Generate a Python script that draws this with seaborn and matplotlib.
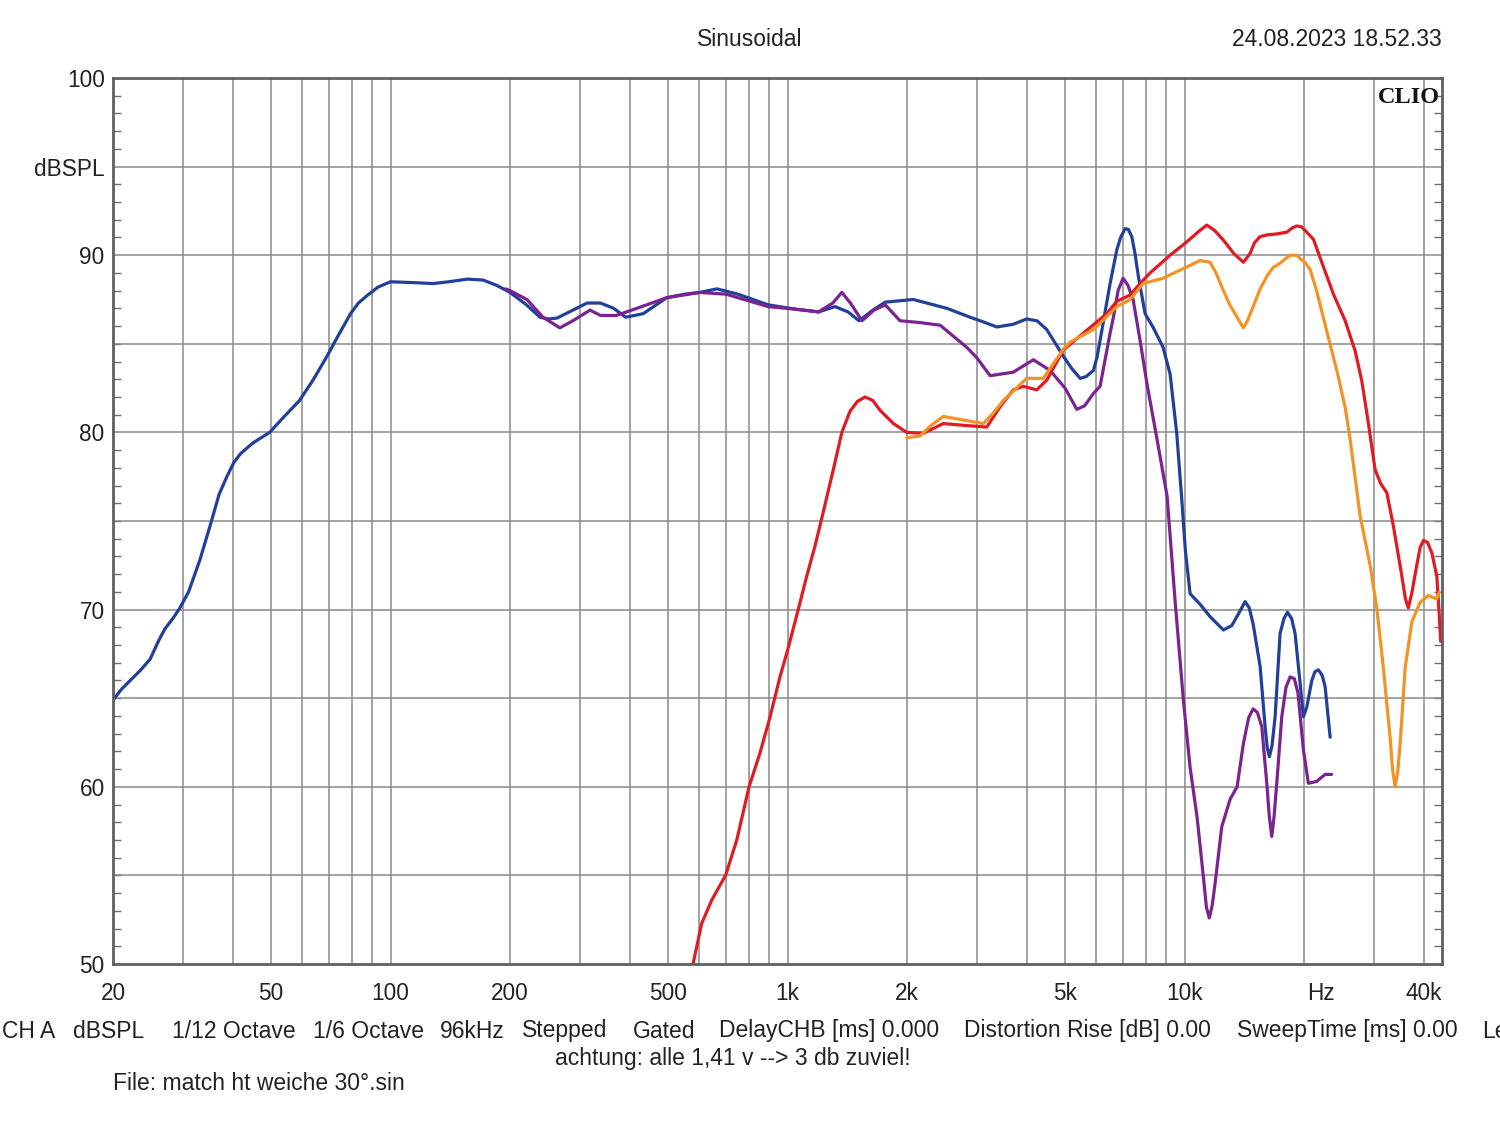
import numpy as np
import pandas as pd
import matplotlib
matplotlib.use("Agg")
import matplotlib.pyplot as plt
from matplotlib.ticker import FixedLocator, NullLocator, MultipleLocator
import seaborn as sns

# ---------------- data ----------------
blue_f = [20, 21, 22.1, 23.5, 24.8, 26, 27, 28.3, 29.5, 31, 33.1, 35.3, 37, 38.7, 40.3, 41.9, 45,
          49.6, 54, 59, 64, 69.2, 74, 79.3, 83, 87.6, 93, 100, 115, 128, 140, 156, 171, 185,
          200, 220, 238, 250, 262.6, 288, 312.6, 338, 365, 391, 433, 496, 550, 601, 664, 750,
          893, 1050, 1197, 1317, 1420, 1514, 1640, 1762, 2074, 2520, 2882, 3100, 3366, 3700,
          4000, 4250, 4498, 4950, 5200, 5456, 5650, 5894, 6020, 6250, 6492, 6750, 6900, 7082,
          7220, 7362, 7500, 7650, 7954, 8346, 8828, 9194, 9556, 9840, 10040, 10324, 10940,
          11596, 12526, 13152, 13700, 14206, 14550, 14880, 15496, 15952, 16150, 16356, 16600,
          16906, 17398, 17800, 18156, 18600, 18982, 19542, 19918, 20316, 20912, 21300, 21730,
          22200, 22592, 23262]
blue_db = [64.9, 65.5, 66.0, 66.6, 67.2, 68.2, 68.9, 69.5, 70.1, 71.0, 72.8, 74.9, 76.5, 77.5, 78.3, 78.8, 79.4,
           80.0, 80.9, 81.8, 83.0, 84.3, 85.5, 86.7, 87.3, 87.75, 88.2, 88.5, 88.45, 88.4, 88.5, 88.65, 88.6, 88.3,
           87.9, 87.2, 86.5, 86.4, 86.45, 86.9, 87.3, 87.3, 87.0, 86.5, 86.7, 87.6, 87.8, 87.9, 88.1, 87.8,
           87.2, 86.95, 86.8, 87.1, 86.8, 86.3, 86.9, 87.35, 87.5, 87.0, 86.5, 86.25, 85.95, 86.1,
           86.4, 86.3, 85.8, 84.3, 83.6, 83.05, 83.15, 83.5, 84.25, 86.3, 88.4, 90.3, 91.0, 91.5,
           91.45, 91.05, 90.1, 88.8, 86.7, 85.9, 84.8, 83.3, 79.95, 76.2, 73.4, 70.9, 70.3,
           69.6, 68.85, 69.1, 69.8, 70.45, 70.1, 69.2, 66.8, 63.4, 62.2, 61.7, 62.3,
           63.95, 68.65, 69.5, 69.85, 69.5, 68.65, 65.85, 63.95, 64.5, 66.0, 66.5, 66.6,
           66.3, 65.65, 62.8]

purple_f = [195, 200, 220.6, 242, 267, 288, 318, 338, 370, 405, 496, 601, 700, 893, 1050, 1197,
            1300, 1370, 1440, 1540, 1650, 1762, 1920, 2150, 2422, 2828, 3000, 3238, 3704, 4160,
            4584, 5000, 5352, 5600, 5894, 6126, 6492, 6618, 6800, 7000, 7200, 7418, 7724, 8046,
            8526, 9036, 9464, 9930, 10324, 10750, 11154, 11350, 11540, 11736, 11936, 12408,
            13024, 13560, 14066, 14500, 14880, 15250, 15648, 16108, 16350, 16580, 16800, 17068,
            17570, 18000, 18436, 18900, 19300, 19918, 20500, 21500, 22592, 23460]
purple_db = [88.1, 88.0, 87.5, 86.5, 85.9, 86.3, 86.9, 86.6, 86.6, 86.9, 87.6, 87.9, 87.8, 87.1, 86.95, 86.8,
             87.3, 87.9, 87.3, 86.3, 86.9, 87.2, 86.3, 86.2, 86.05, 84.8, 84.2, 83.2, 83.4, 84.1,
             83.5, 82.5, 81.3, 81.5, 82.2, 82.6, 85.6, 86.5, 88.0, 88.7, 88.3, 87.5, 85.2, 82.7,
             79.6, 76.4, 70.5, 64.9, 61.1, 58.3, 54.9, 53.2, 52.6, 53.3, 54.55, 57.75,
             59.3, 60.0, 62.45, 63.9, 64.4, 64.2, 63.4, 60.2, 58.3, 57.2, 58.3, 60.2,
             63.95, 65.6, 66.2, 66.1, 65.3, 62.1, 60.2, 60.3, 60.7, 60.7]

red_f = [578, 608, 644, 698, 745, 800, 852, 900, 957, 1000, 1064, 1118, 1173, 1230, 1304, 1370,
         1437, 1500, 1568, 1640, 1710, 1848, 1996, 2198, 2468, 2774, 3176, 3430, 3704, 3926,
         4244, 4498, 4950, 5560, 6368, 6750, 7290, 7724, 8188, 9194, 10126, 10800, 11372,
         11900, 12526, 13300, 14066, 14622, 15000, 15496, 16200, 17068, 18090, 18700, 19172,
         19700, 20116, 21112, 22370, 23712, 25380, 26892, 27952, 29042, 30190, 31200, 32308,
         33580, 35252, 36000, 36614, 37400, 38442, 39200, 39954, 40900, 41948, 43182, 43800,
         44160]
red_db = [50.0, 52.3, 53.6, 55.0, 57.0, 60.0, 61.9, 63.8, 66.2, 67.7, 70.0, 71.9, 73.6, 75.5, 77.9, 80.0,
          81.2, 81.75, 82.0, 81.8, 81.25, 80.5, 80.0, 79.95, 80.5, 80.4, 80.3, 81.45, 82.4, 82.6,
          82.4, 82.95, 84.65, 85.6, 86.7, 87.4, 87.75, 88.4, 89.0, 90.0, 90.75, 91.3, 91.7,
          91.4, 90.85, 90.1, 89.6, 90.1, 90.7, 91.05, 91.15, 91.2, 91.3, 91.55, 91.65,
          91.6, 91.4, 90.9, 89.35, 87.8, 86.3, 84.6, 82.9, 80.5, 77.9, 77.1, 76.6,
          74.7, 71.9, 70.6, 70.1, 71.0, 72.5, 73.5, 73.9, 73.8, 73.2, 71.9, 69.7,
          68.2]

orange_f = [1996, 2156, 2300, 2468, 2774, 3114, 3300, 3496, 4004, 4408, 4950, 5148, 5894, 6750,
            7290, 7862, 8828, 9930, 10940, 11596, 12000, 12526, 13000, 13560, 14066, 14400,
            14880, 15500, 16108, 16700, 17398, 18436, 19172, 19542, 20100, 20708, 21500, 22816,
            24176, 25380, 26124, 27672, 29328, 30484, 31672, 32932, 33400, 33906, 34400, 34904,
            35932, 37358, 39190, 41128, 43182, 43800]
orange_db = [79.7, 79.8, 80.4, 80.9, 80.7, 80.5, 81.1, 81.8, 83.05, 83.05, 84.7, 85.1, 85.8, 87.1,
             87.5, 88.4, 88.7, 89.25, 89.7, 89.6, 89.0, 88.0, 87.2, 86.5, 85.9, 86.3,
             87.1, 88.1, 88.8, 89.3, 89.55, 90.0, 90.0, 89.8, 89.6, 89.2, 88.0, 85.7,
             83.5, 81.4, 79.6, 75.3, 72.5, 70.1, 66.7, 62.8, 61.0, 60.0, 60.8, 62.4,
             66.7, 69.3, 70.4, 70.8, 70.6, 71.0]

series_names = ["blue", "purple", "red", "orange"]
series_colors = ["#22409a", "#7b2390", "#e01b24", "#f39325"]

x_tick_vals = [20, 50, 100, 200, 500, 1000, 2000, 5000, 10000, 22000, 40000]
x_tick_labels = ["20", "50", "100", "200", "500", "1k", "2k", "5k", "10k", "Hz", "40k"]
y_tick_vals = [50, 60, 70, 80, 90, 95, 100]
y_tick_labels = ["50", "60", "70", "80", "90", "dBSPL", "100"]

title = "Sinusoidal"
date_text = "24.08.2023 18.52.33"
info_items = ["CH A", "dBSPL", "1/12 Octave", "1/6 Octave", "96kHz", "Stepped", "Gated",
              "DelayCHB [ms] 0.000", "Distortion Rise [dB] 0.00", "SweepTime [ms] 0.00", "Le"]
info_x_px = [2, 73, 172, 313, 440, 522, 633, 719, 964, 1237, 1482]
note_text = "achtung: alle 1,41 v --> 3 db zuviel!"
file_text = "File: match ht weiche 30°.sin"

# ---------------- build frame ----------------
frames = []
for name, fs, dbs in zip(series_names,
                         [blue_f, purple_f, red_f, orange_f],
                         [blue_db, purple_db, red_db, orange_db]):
    frames.append(pd.DataFrame({"f": fs, "db": dbs, "s": name}))
df = pd.concat(frames, ignore_index=True)

sns.set_theme(style="white")
plt.rcParams["font.family"] = ["Liberation Sans", "DejaVu Sans"]

W, H = 1500, 1121
fig = plt.figure(figsize=(W / 100, H / 100), dpi=100)
ax = fig.add_axes([113 / W, 1 - 964 / H, (1442 - 113) / W, (964 - 78) / H])

ax.set_xscale("log")
ax.set_xlim(20, 44500)
ax.set_ylim(50, 100)

# grid
grid_x = [m * 10 ** e for e in range(1, 5) for m in range(1, 10)]
grid_x = [g for g in grid_x if 20 <= g <= 44500]
for g in grid_x:
    ax.axvline(g, color="#8a8a8a", lw=1.1, zorder=1)
for gy in range(55, 100, 5):
    ax.axhline(gy, color="#8a8a8a", lw=1.1, zorder=1)

sns.lineplot(data=df, x="f", y="db", hue="s", hue_order=series_names,
             palette=series_colors, estimator=None, sort=False, lw=2.3,
             legend=False, ax=ax, zorder=3)
for ln in ax.get_lines():
    ln.set_solid_joinstyle("round")
    ln.set_solid_capstyle("round")

ax.set_xlabel("")
ax.set_ylabel("")

ax.xaxis.set_major_locator(FixedLocator(x_tick_vals))
ax.xaxis.set_minor_locator(NullLocator())
ax.set_xticklabels(x_tick_labels)
ax.yaxis.set_major_locator(FixedLocator(y_tick_vals))
ax.set_yticklabels(y_tick_labels)
ax.yaxis.set_minor_locator(MultipleLocator(1))
ax.tick_params(axis="x", which="major", length=0, pad=13, labelsize=16.3, labelcolor="#222222")
ax.tick_params(axis="y", which="major", length=0, pad=6, labelsize=16.3, labelcolor="#222222")
ax.tick_params(axis="y", which="minor", direction="in", length=6, width=1,
               color="#707070", left=True, right=True)

for sp in ax.spines.values():
    sp.set_color("#606060")
    sp.set_linewidth(2)
    sp.set_zorder(4)

ax.text(0.9985, 0.99, "CLIO", transform=ax.transAxes, ha="right", va="top",
        fontsize=17.5, fontweight="bold", family=["Liberation Serif", "DejaVu Serif"],
        color="#111111", zorder=5)

fig.text(750 / W, 1 - 39 / H, title, ha="center", va="center", fontsize=16.5, color="#222222")
fig.text(1442 / W, 1 - 39 / H, date_text, ha="right", va="center", fontsize=16.5, color="#222222")

for t, xp in zip(info_items, info_x_px):
    fig.text(xp / W, 1 - 1031 / H, t, ha="left", va="center", fontsize=16.5, color="#222222")
fig.text(733 / W, 1 - 1058 / H, note_text, ha="center", va="center", fontsize=16.5, color="#222222")
fig.text(113 / W, 1 - 1084 / H, file_text, ha="left", va="center", fontsize=16.5, color="#222222")

fig.savefig("out.png", dpi=100, facecolor="white")
